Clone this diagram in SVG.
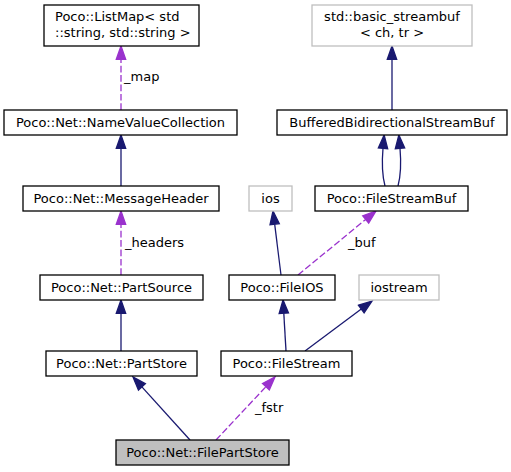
<svg xmlns="http://www.w3.org/2000/svg" width="511" height="472" viewBox="0 0 511 472">
<style>
text{font-family:"DejaVu Sans","Liberation Sans",sans-serif;font-size:13px;fill:#000}
.n rect{fill:#fff;stroke:#000;stroke-width:1.3}
.x rect{fill:#fff;stroke:#bfbfbf;stroke-width:1.3}
.cur rect{fill:#bfbfbf;stroke:#000;stroke-width:1.3}
.c{text-anchor:middle}
.inh{fill:none;stroke:#191970;stroke-width:1.3}
.use{fill:none;stroke:#9a32cd;stroke-width:1.3;stroke-dasharray:6.7,2.7}
</style>
<defs>
<marker id="ah" markerUnits="userSpaceOnUse" markerWidth="16" markerHeight="12" refX="0" refY="0" viewBox="0 -6 16 12" orient="auto" overflow="visible"><path d="M0,-4.7L13.3,0L0,4.7z" fill="#191970" stroke="#191970" stroke-width="1.3"/></marker>
<marker id="ap" markerUnits="userSpaceOnUse" markerWidth="16" markerHeight="12" refX="0" refY="0" viewBox="0 -6 16 12" orient="auto" overflow="visible"><path d="M0,-4.7L13.3,0L0,4.7z" fill="#9a32cd" stroke="#9a32cd" stroke-width="1.3"/></marker>
</defs>
<rect width="511" height="472" fill="#fff"/>
<g id="connectors">
<path class="use" marker-end="url(#ap)" d="M121,110L121,59.3"/>
<path class="inh" marker-end="url(#ah)" d="M392,110L392,59.3"/>
<path class="inh" marker-end="url(#ah)" d="M121,186L121,148.3"/>
<path class="use" marker-end="url(#ap)" d="M121,275L121,224.3"/>
<path class="inh" marker-end="url(#ah)" d="M121,351L121,313.3"/>
<path class="inh" marker-end="url(#ah)" d="M385,186C382,175 382,160 383,148.3"/>
<path class="inh" marker-end="url(#ah)" d="M398,186C401,175 401,160 400,148.3"/>
<path class="inh" marker-end="url(#ah)" d="M281,275L274.65,224.2"/>
<path class="use" marker-end="url(#ap)" d="M298,275L365.7,219.4"/>
<path class="inh" marker-end="url(#ah)" d="M286,351L283.8,313.3"/>
<path class="inh" marker-end="url(#ah)" d="M305,351L361.3,309"/>
<path class="inh" marker-end="url(#ah)" d="M190,440L141.9,386.9"/>
<path class="use" marker-end="url(#ap)" d="M216,440L265.9,386.7"/>
<text x="124" y="81">_map</text>
<text x="125" y="247">_headers</text>
<text x="348" y="247">_buf</text>
<text x="255" y="412">_fstr</text>
</g>
<g id="listmap" class="n"><rect x="44" y="5" width="155" height="41"/><text x="55" y="21">Poco::ListMap&lt; std</text><text x="55" y="36.5">::string, std::string &gt;</text></g>
<g id="basic_streambuf" class="x"><rect x="312" y="5" width="160" height="41"/><text class="c" x="392" y="21">std::basic_streambuf</text><text class="c" x="392" y="36.5">&lt; ch, tr &gt;</text></g>
<g id="namevaluecollection" class="n"><rect x="4" y="110" width="233" height="25"/><text class="c" x="120.5" y="126.5">Poco::Net::NameValueCollection</text></g>
<g id="bufferedbidirectionalstreambuf" class="n"><rect x="277" y="110" width="230" height="25"/><text class="c" x="392" y="126.5">BufferedBidirectionalStreamBuf</text></g>
<g id="messageheader" class="n"><rect x="23" y="186" width="196" height="25"/><text class="c" x="121" y="202.5">Poco::Net::MessageHeader</text></g>
<g id="ios" class="x"><rect x="249" y="186" width="43" height="25"/><text class="c" x="270.5" y="202.5">ios</text></g>
<g id="filestreambuf" class="n"><rect x="315" y="186" width="153" height="25"/><text class="c" x="391.5" y="202.5">Poco::FileStreamBuf</text></g>
<g id="partsource" class="n"><rect x="40" y="275" width="163" height="25"/><text class="c" x="121.5" y="291.5">Poco::Net::PartSource</text></g>
<g id="fileios" class="n"><rect x="229" y="275" width="106" height="25"/><text class="c" x="282" y="291.5">Poco::FileIOS</text></g>
<g id="iostream" class="x"><rect x="359" y="275" width="80" height="25"/><text class="c" x="399" y="291.5">iostream</text></g>
<g id="partstore" class="n"><rect x="46" y="351" width="151" height="25"/><text class="c" x="121.5" y="367.5">Poco::Net::PartStore</text></g>
<g id="filestream" class="n"><rect x="221" y="351" width="131" height="25"/><text class="c" x="286.5" y="367.5">Poco::FileStream</text></g>
<g id="filepartstore" class="cur"><rect x="116" y="440" width="173" height="25"/><text class="c" x="202.5" y="456.5">Poco::Net::FilePartStore</text></g>
</svg>
